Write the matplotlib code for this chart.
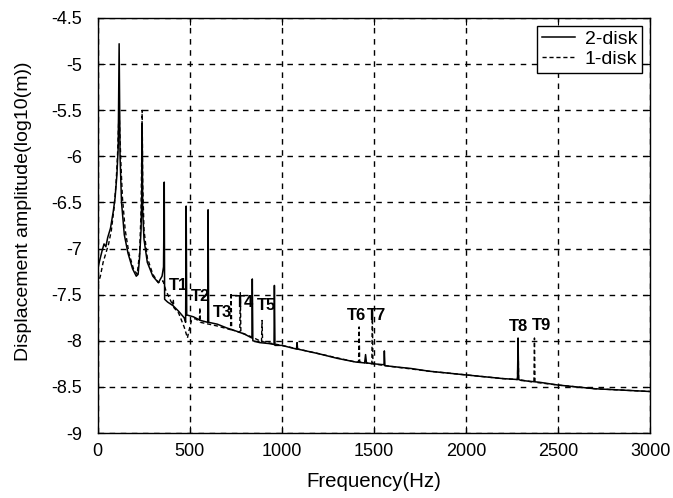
import matplotlib

matplotlib.use("Agg")
import matplotlib.pyplot as plt

plt.rcParams.update({
    "font.family": ["Liberation Sans", "DejaVu Sans"],
    "font.size": 13,
    "axes.linewidth": 1.0,
    "xtick.direction": "in",
    "ytick.direction": "in",
    "xtick.top": True,
    "ytick.right": True,
})

# 2-disk response (solid) -- frequency (Hz) / log10 amplitude (m)
freq_2disk = [0, 15, 25, 35, 45, 55, 70, 85, 95, 105, 112, 117, 122, 130, 145, 165,
              190, 210, 220, 228, 236, 240, 242, 245, 252, 270, 300, 330, 350, 358,
              362, 364, 380, 410, 440, 470, 478, 481, 484, 520, 560, 598, 600, 603,
              650, 700, 760, 800, 838, 840, 843, 880, 930, 958, 960, 963, 1000, 1080,
              1083, 1086, 1200, 1300, 1400, 1450, 1455, 1460, 1500, 1555, 1557, 1560,
              1650, 1700, 1800, 1900, 2000, 2100, 2200, 2280, 2283, 2286, 2300, 2400,
              2500, 2600, 2700, 2800, 2900, 3000]
amp_2disk = [-7.22, -7.10, -7.02, -6.95, -6.98, -6.88, -6.78, -6.60, -6.45, -6.20, -5.90,
             -4.78, -6.00, -6.50, -6.85, -7.05, -7.22, -7.30, -7.28, -7.10, -6.80, -6.40,
             -5.65, -6.60, -6.90, -7.15, -7.30, -7.37, -7.30, -7.20, -6.28, -7.55, -7.58,
             -7.62, -7.68, -7.75, -7.80, -6.54, -7.72, -7.74, -7.78, -7.80, -6.58, -7.80,
             -7.82, -7.86, -7.90, -7.93, -7.97, -7.33, -8.00, -8.02, -8.03, -8.04, -7.40,
             -8.05, -8.05, -8.09, -8.02, -8.09, -8.14, -8.19, -8.23, -8.24, -8.15, -8.24,
             -8.25, -8.26, -8.11, -8.27, -8.29, -8.30, -8.33, -8.35, -8.37, -8.39, -8.41,
             -8.42, -7.97, -8.42, -8.43, -8.45, -8.48, -8.50, -8.52, -8.53, -8.54, -8.55]

# 1-disk response (dashed)
freq_1disk = [0, 15, 30, 45, 60, 75, 90, 100, 108, 113, 117, 121, 127, 135, 150, 170,
              195, 215, 228, 236, 240, 242, 245, 252, 270, 300, 330, 355, 370, 400,
              408, 411, 414, 440, 470, 488, 495, 510, 530, 553, 555, 558, 650, 722,
              725, 728, 772, 775, 778, 850, 890, 893, 896, 1000, 1200, 1400, 1417,
              1420, 1423, 1489, 1492, 1495, 1600, 1800, 2000, 2200, 2280, 2283, 2286,
              2369, 2372, 2375, 2500, 2700, 2900, 3000]
amp_1disk = [-7.40, -7.30, -7.15, -7.05, -6.95, -6.80, -6.55, -6.30, -6.00, -5.70, -5.50,
             -5.75, -6.10, -6.45, -6.80, -7.05, -7.22, -7.28, -7.05, -6.60, -5.90, -5.50,
             -6.30, -6.80, -7.10, -7.28, -7.37, -7.35, -7.45, -7.58, -7.62, -7.55, -7.64,
             -7.70, -7.85, -7.97, -7.90, -7.78, -7.76, -7.79, -7.64, -7.80, -7.84, -7.88,
             -7.48, -7.88, -7.91, -7.48, -7.91, -7.97, -8.01, -7.78, -8.01, -8.05, -8.14,
             -8.23, -8.23, -7.85, -8.23, -8.25, -7.68, -8.25, -8.28, -8.33, -8.37, -8.41,
             -8.42, -7.99, -8.42, -8.45, -7.97, -8.45, -8.48, -8.52, -8.54, -8.55]

# mode markers
mode_names = ["T1", "T2", "T3", "T4", "T5", "T6", "T7", "T8", "T9"]
mode_freq = [437, 558, 678, 797, 917, 1405, 1514, 2285, 2410]
mode_amp = [-7.40, -7.52, -7.69, -7.59, -7.62, -7.73, -7.73, -7.85, -7.83]

x_ticks = [0, 500, 1000, 1500, 2000, 2500, 3000]
y_ticks = [-9, -8.5, -8, -7.5, -7, -6.5, -6, -5.5, -5, -4.5]

fig = plt.figure(figsize=(6.73, 4.98), dpi=100)
ax = fig.add_axes([0.145, 0.1305, 0.821, 0.8335])

ax.plot(freq_2disk, amp_2disk, color="black", lw=1.1, label="2-disk")
ax.plot(freq_1disk, amp_1disk, color="black", lw=1.0, ls=(0, (3, 2)), label="1-disk")

for name, f, a in zip(mode_names, mode_freq, mode_amp):
    ax.text(f, a, name, ha="center", va="center", fontsize=12, fontweight="bold",
            family=["Liberation Sans Narrow", "Liberation Sans"])

ax.set_xlim(0, 3000)
ax.set_ylim(-9, -4.5)
ax.set_xticks(x_ticks, [str(v) for v in x_ticks])
ax.set_yticks(y_ticks, [f"{v:g}" for v in y_ticks])
ax.tick_params(length=5)
ax.tick_params(axis="x", pad=7)
ax.tick_params(axis="y", pad=11)
ax.grid(True, color="black", ls=(0, (4, 4)), lw=1.0)
ax.set_xlabel("Frequency(Hz)", fontsize=14.7)
ax.set_ylabel("Displacement amplitude(log10(m))", fontsize=14)
ax.xaxis.set_label_coords(0.5, -0.093)
ax.yaxis.set_label_coords(-0.119, 0.535)

leg = ax.legend(loc="upper right", fontsize=14, frameon=True, fancybox=False,
                framealpha=1, edgecolor="black", handlelength=1.7,
                handletextpad=0.5, borderpad=0.25, borderaxespad=0.4,
                labelspacing=0.1)
leg.get_frame().set_linewidth(1.0)

fig.savefig("out.png", dpi=100)
